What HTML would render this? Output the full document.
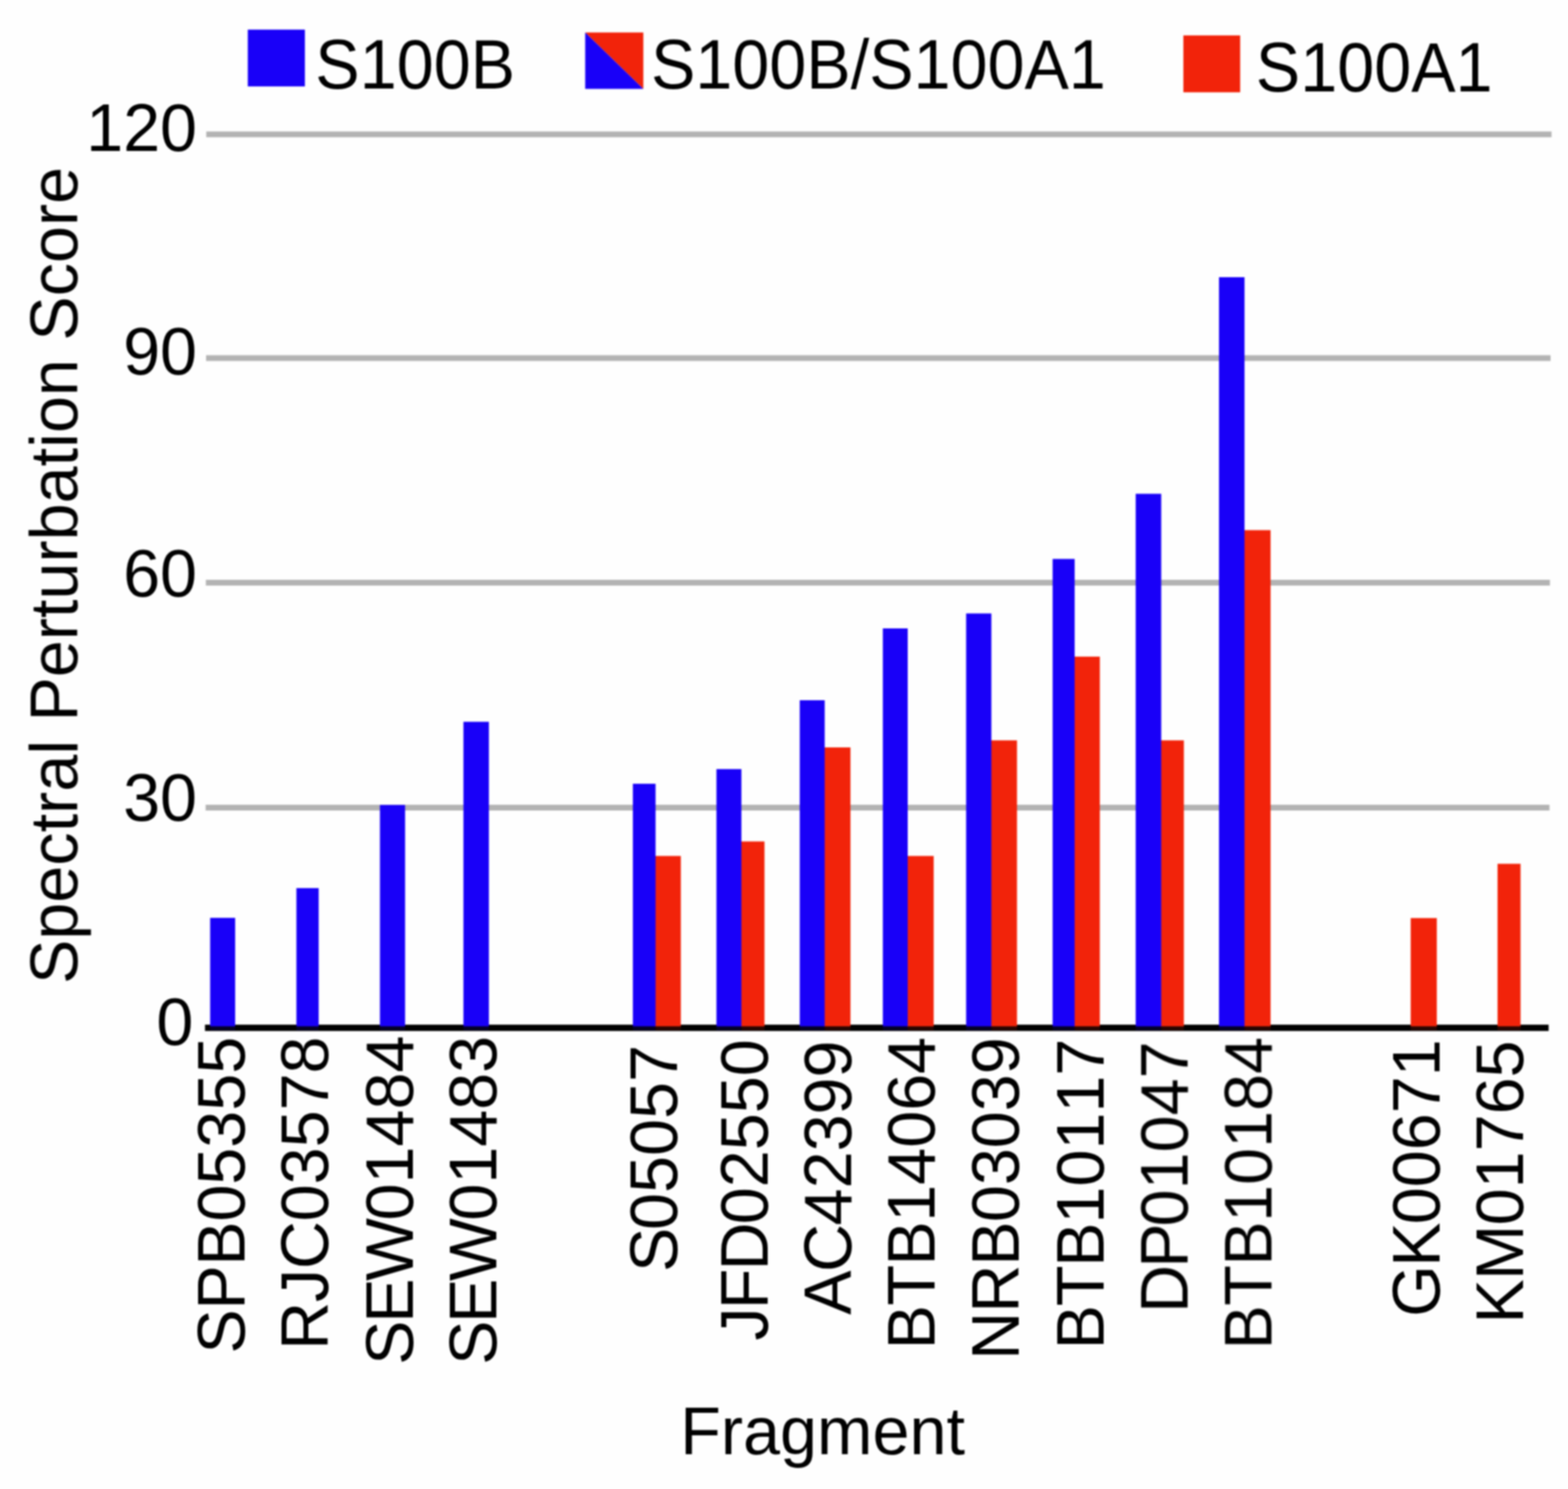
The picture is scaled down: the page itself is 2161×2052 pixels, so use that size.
<!DOCTYPE html>
<html lang="en">
<head>
<meta charset="utf-8">
<title>Spectral Perturbation Score by Fragment</title>
<style>
html,body{margin:0;padding:0;background:#fefefe;}
body{width:2161px;height:2052px;overflow:hidden;}
svg{display:block;}
text{font-family:"Liberation Sans",Arial,Helvetica,sans-serif;font-size:91.67px;fill:#000;font-kerning:none;}
</style>
</head>
<body>
<svg width="2161" height="2052" viewBox="0 0 2161 2052" role="img" aria-label="Bar chart of spectral perturbation score per fragment">
<defs><filter id="soft" x="0" y="0" width="2161" height="2052" filterUnits="userSpaceOnUse" color-interpolation-filters="sRGB"><feGaussianBlur stdDeviation="1.1"/></filter></defs>
<rect x="0" y="0" width="2161" height="2052" fill="#fefefe"/>
<g id="chart" filter="url(#soft)">
<g id="grid" fill="#b3b3b3">
<rect x="284.3" y="181.2" width="1854" height="7.9"/>
<rect x="284" y="489.55" width="1853" height="7.9"/>
<rect x="283.7" y="799.05" width="1852.4" height="7.9"/>
<rect x="283.4" y="1109.05" width="1852.1" height="7.9"/>
</g>
<g id="axis"><rect x="282.5" y="1412.1" width="1851.8" height="8.7" fill="#000"/></g>
<g id="bars">
<rect x="902.5" y="1179.6" width="35.8" height="234.8" fill="#f2230a"/>
<rect x="1020.8" y="1159.6" width="32.8" height="254.8" fill="#f2230a"/>
<rect x="1135.6" y="1030" width="36.5" height="384.4" fill="#f2230a"/>
<rect x="1250" y="1179.6" width="36.8" height="234.8" fill="#f2230a"/>
<rect x="1365.3" y="1020.3" width="36.3" height="394.1" fill="#f2230a"/>
<rect x="1480.1" y="904.9" width="35.7" height="509.5" fill="#f2230a"/>
<rect x="1599.4" y="1020.3" width="32.2" height="394.1" fill="#f2230a"/>
<rect x="1714.2" y="730.6" width="36.9" height="683.8" fill="#f2230a"/>
<rect x="1944.2" y="1265.2" width="36" height="149.2" fill="#f2230a"/>
<rect x="2063.9" y="1190.4" width="31.7" height="224" fill="#f2230a"/>
<rect x="289.6" y="1264.9" width="34.5" height="149.5" fill="#1900f8"/>
<rect x="408.5" y="1223.9" width="30.7" height="190.5" fill="#1900f8"/>
<rect x="523.6" y="1109.3" width="34.7" height="305.1" fill="#1900f8"/>
<rect x="638.7" y="994.7" width="35.1" height="419.7" fill="#1900f8"/>
<rect x="872.2" y="1080.1" width="31.3" height="334.3" fill="#1900f8"/>
<rect x="987.4" y="1059.9" width="34.4" height="354.5" fill="#1900f8"/>
<rect x="1102.2" y="965" width="34.4" height="449.4" fill="#1900f8"/>
<rect x="1216.7" y="866" width="34.3" height="548.4" fill="#1900f8"/>
<rect x="1331.5" y="845.4" width="34.8" height="569" fill="#1900f8"/>
<rect x="1450.7" y="770.3" width="30.4" height="644.1" fill="#1900f8"/>
<rect x="1565.2" y="680.5" width="35.2" height="733.9" fill="#1900f8"/>
<rect x="1680" y="382" width="35.2" height="1032.4" fill="#1900f8"/>
</g>
<g id="barfeet" opacity="0.16">
<rect x="289.6" y="1414.4" width="34.5" height="5.4" fill="#1900f8"/>
<rect x="408.5" y="1414.4" width="30.7" height="5.4" fill="#1900f8"/>
<rect x="523.6" y="1414.4" width="34.7" height="5.4" fill="#1900f8"/>
<rect x="638.7" y="1414.4" width="35.1" height="5.4" fill="#1900f8"/>
<rect x="872.2" y="1414.4" width="31.3" height="5.4" fill="#1900f8"/>
<rect x="903.5" y="1414.4" width="34.8" height="5.4" fill="#f2230a"/>
<rect x="987.4" y="1414.4" width="34.4" height="5.4" fill="#1900f8"/>
<rect x="1021.8" y="1414.4" width="31.8" height="5.4" fill="#f2230a"/>
<rect x="1102.2" y="1414.4" width="34.4" height="5.4" fill="#1900f8"/>
<rect x="1136.6" y="1414.4" width="35.5" height="5.4" fill="#f2230a"/>
<rect x="1216.7" y="1414.4" width="34.3" height="5.4" fill="#1900f8"/>
<rect x="1251" y="1414.4" width="35.8" height="5.4" fill="#f2230a"/>
<rect x="1331.5" y="1414.4" width="34.8" height="5.4" fill="#1900f8"/>
<rect x="1366.3" y="1414.4" width="35.3" height="5.4" fill="#f2230a"/>
<rect x="1450.7" y="1414.4" width="30.4" height="5.4" fill="#1900f8"/>
<rect x="1481.1" y="1414.4" width="34.7" height="5.4" fill="#f2230a"/>
<rect x="1565.2" y="1414.4" width="35.2" height="5.4" fill="#1900f8"/>
<rect x="1600.4" y="1414.4" width="31.2" height="5.4" fill="#f2230a"/>
<rect x="1680" y="1414.4" width="35.2" height="5.4" fill="#1900f8"/>
<rect x="1715.2" y="1414.4" width="35.9" height="5.4" fill="#f2230a"/>
<rect x="1944.2" y="1414.4" width="36" height="5.4" fill="#f2230a"/>
<rect x="2063.9" y="1414.4" width="31.7" height="5.4" fill="#f2230a"/>
</g>
<g id="legend">
<rect x="341.5" y="40.8" width="78.7" height="78.3" fill="#1900f8"/>
<text transform="translate(434.6 122) scale(1 1.045)">S100B</text>
<polygon points="806.5,44.7 886.6,44.7 886.6,122.4" fill="#f2230a"/>
<polygon points="806.5,44.7 886.6,122.4 806.5,122.4" fill="#1900f8"/>
<text transform="translate(897.2 122) scale(1 1.045)">S100B/S100A1</text>
<rect x="1630.9" y="48.8" width="78.3" height="78.4" fill="#f2230a"/>
<text transform="translate(1730.8 125.7) scale(1 1.045)">S100A1</text>
</g>
<g id="yticks" text-anchor="end">
<text transform="translate(271.6 207.8) scale(1 1.02)">120</text>
<text transform="translate(271.6 516.4) scale(1 1.02)">90</text>
<text transform="translate(271.6 821.9) scale(1 1.02)">60</text>
<text transform="translate(271.6 1131.5) scale(1 1.02)">30</text>
<text transform="translate(266.4 1440.1) scale(1 1.02)">0</text>
</g>
<g id="xticks">
<text transform="translate(336.8 1865.5) rotate(-90) scale(1 1.02)" dx="0 -0.51 -0.51 -0.51 0 0 0 0">SPB05355</text>
<text transform="translate(452 1860.2) rotate(-90) scale(1 1.02)" dx="0 -0.45 -0.45 -0.45 0 0 0 0">RJC03578</text>
<text transform="translate(568.5 1880.9) rotate(-90) scale(1 1.02)" dx="0 -3.27 -3.27 -3.27 0 0 0 0">SEW01484</text>
<text transform="translate(683.6 1880.9) rotate(-90) scale(1 1.02)" dx="0 -3.41 -3.41 -3.41 0 0 0 0">SEW01483</text>
<text transform="translate(932.7 1753) rotate(-90) scale(1 1.02)" dx="0 -3.16 0 0 0 0">S05057</text>
<text transform="translate(1057.6 1847.4) rotate(-90) scale(1 1.02)" dx="0 -2.65 -2.65 -2.65 0 0 0 0">JFD02550</text>
<text transform="translate(1173.2 1812.1) rotate(-90) scale(1 1.02)" dx="0 -2.03 -2.03 0 0 0 0">AC42399</text>
<text transform="translate(1288.4 1859.4) rotate(-90) scale(1 1.02)" dx="0 -0.9 -0.9 -0.9 0 0 0 0">BTB14064</text>
<text transform="translate(1404.2 1874) rotate(-90) scale(1 1.02)" dx="0 -1.29 -1.29 -1.29 0 0 0 0">NRB03039</text>
<text transform="translate(1520.6 1859.4) rotate(-90) scale(1 1.02)" dx="0 -1.73 -1.73 -1.73 0 0 0 0">BTB10117</text>
<text transform="translate(1636.4 1809.4) rotate(-90) scale(1 1.02)" dx="0 -4.03 -4.03 0 0 0 0">DP01047</text>
<text transform="translate(1752 1859.7) rotate(-90) scale(1 1.02)" dx="0 -0.8 -0.8 -0.8 0 0 0 0">BTB10184</text>
<text transform="translate(1983.9 1814.7) rotate(-90) scale(1 1.02)" dx="0 -2.43 -2.43 0 0 0 0">GK00671</text>
<text transform="translate(2099.4 1824.1) rotate(-90) scale(1 1.02)" dx="0 -1.11 -1.11 0 0 0 0">KM01765</text>
</g>
<text transform="translate(106.6 793) rotate(-90) scale(1 1.015)" text-anchor="middle">Spectral Perturbation Score</text>
<text transform="translate(1133.7 2004) scale(1 1.015)" text-anchor="middle">Fragment</text>
</g>
</svg>
</body>
</html>
